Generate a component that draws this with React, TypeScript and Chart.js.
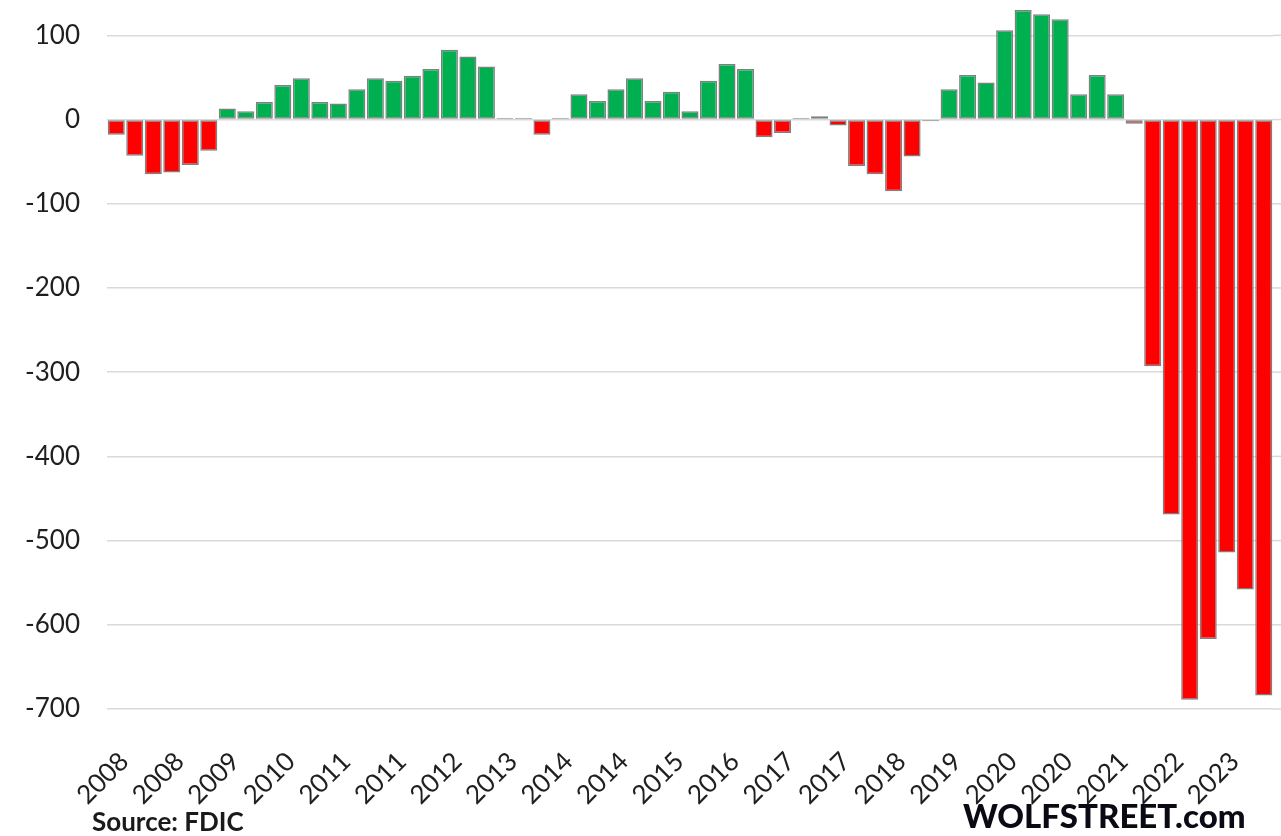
import React, { useEffect, useRef } from "react";
import { Chart, registerables } from "chart.js";

Chart.register(...registerables);

// Quarterly categories, 2008 Q1 – 2023 Q3
const quarters: string[] = [
  "2008 Q1", "2008 Q2", "2008 Q3", "2008 Q4",
  "2009 Q1", "2009 Q2", "2009 Q3", "2009 Q4",
  "2010 Q1", "2010 Q2", "2010 Q3", "2010 Q4",
  "2011 Q1", "2011 Q2", "2011 Q3", "2011 Q4",
  "2012 Q1", "2012 Q2", "2012 Q3", "2012 Q4",
  "2013 Q1", "2013 Q2", "2013 Q3", "2013 Q4",
  "2014 Q1", "2014 Q2", "2014 Q3", "2014 Q4",
  "2015 Q1", "2015 Q2", "2015 Q3", "2015 Q4",
  "2016 Q1", "2016 Q2", "2016 Q3", "2016 Q4",
  "2017 Q1", "2017 Q2", "2017 Q3", "2017 Q4",
  "2018 Q1", "2018 Q2", "2018 Q3", "2018 Q4",
  "2019 Q1", "2019 Q2", "2019 Q3", "2019 Q4",
  "2020 Q1", "2020 Q2", "2020 Q3", "2020 Q4",
  "2021 Q1", "2021 Q2", "2021 Q3", "2021 Q4",
  "2022 Q1", "2022 Q2", "2022 Q3", "2022 Q4",
  "2023 Q1", "2023 Q2", "2023 Q3",
];

// Values
const values: number[] = [
  -18, -43, -65, -63, -54, -37,
  13, 10, 21, 41, 49, 21, 19, 36, 49, 46, 52, 60, 83, 75, 63,
  2, 2, -18, 2,
  30, 22, 36, 49, 22, 33, 10, 46, 66, 60,
  -21, -16, 2, 4, -7, -55, -65, -85, -44, -2,
  36, 53, 44, 106, 130, 125, 119, 30, 53, 30,
  -5, -293, -469, -689, -617, -514, -558, -684,
];

// Shown x tick labels (one every third quarter)
const tickLabels: string[] = [
  "2008", "2008", "2009", "2010", "2011", "2011", "2012", "2013", "2014", "2014",
  "2015", "2016", "2017", "2017", "2018", "2019", "2020", "2020", "2021", "2022", "2023",
];

const yTicks: number[] = [100, 0, -100, -200, -300, -400, -500, -600, -700];

const sourceText = "Source: FDIC";
const brandText = "WOLFSTREET.com";

const gridColor = "#D9D9D9";

// extends horizontal gridlines to the right edge of the canvas, as in the reference
const gridExtend = {
  id: "gridExtend",
  beforeDatasetsDraw(chart: any) {
    const { ctx, chartArea, scales } = chart;
    const y = scales.y;
    ctx.save();
    ctx.strokeStyle = gridColor;
    ctx.lineWidth = 1.5;
    y.ticks.forEach((t: any) => {
      const py = y.getPixelForValue(t.value);
      ctx.beginPath();
      ctx.moveTo(chartArea.right, py);
      ctx.lineTo(chart.width, py);
      ctx.stroke();
    });
    ctx.restore();
  },
};

export default function App() {
  const canvasRef = useRef<HTMLCanvasElement | null>(null);

  useEffect(() => {
    const canvas = canvasRef.current;
    if (!canvas) return;
    const chart = new Chart(canvas, {
      type: "bar",
      data: {
        labels: quarters,
        datasets: [
          {
            data: values,
            backgroundColor: values.map((v) => (v < 0 ? "#FF0000" : "#00B050")),
            borderColor: "#7F7F7F",
            borderWidth: 1.5,
            borderSkipped: false,
            barPercentage: 0.92,
            categoryPercentage: 1.0,
          },
        ],
      },
      options: {
        responsive: false,
        animation: false,
        layout: { padding: { top: 0, right: 8, bottom: 0, left: 0 } },
        plugins: {
          legend: { display: false },
          tooltip: { enabled: false },
          title: { display: false },
        },
        scales: {
          x: {
            grid: { display: false, drawTicks: false },
            border: { display: false },
            ticks: {
              autoSkip: false,
              maxRotation: 45,
              minRotation: 45,
              padding: 37,
              labelOffset: 8,
              color: "#1F1F1F",
              font: { family: "Lato", size: 26 },
              callback: (_v: any, index: number) =>
                index % 3 === 0 ? tickLabels[index / 3] ?? "" : "",
            },
            afterFit: (scale: any) => {
              scale.height = 127;
              scale.paddingLeft = 0;
              scale.paddingRight = 0;
            },
          },
          y: {
            min: -700,
            max: 142,
            grid: { color: gridColor, lineWidth: 1.5, drawTicks: false },
            border: { display: false },
            ticks: {
              padding: 27,
              color: "#1F1F1F",
              font: { family: "Lato", size: 26 },
            },
            afterBuildTicks: (scale: any) => {
              scale.ticks = yTicks.map((v) => ({ value: v }));
            },
            afterFit: (scale: any) => {
              scale.width = 107;
              scale.paddingTop = 0;
              scale.paddingBottom = 0;
            },
          },
        },
      },
      plugins: [gridExtend],
    });
    return () => chart.destroy();
  }, []);

  return (
    <div
      style={{
        position: "absolute",
        left: 0,
        top: 0,
        width: 1281,
        height: 836,
        background: "#FFFFFF",
        overflow: "hidden",
      }}
    >
      <canvas ref={canvasRef} width={1281} height={836} style={{ display: "block" }} />
      <div
        style={{
          position: "absolute",
          left: 92,
          top: 806,
          fontFamily: "Lato",
          fontWeight: 700,
          fontSize: 26,
          lineHeight: "30px",
          color: "#1A1A1A",
          whiteSpace: "nowrap",
        }}
      >
        {sourceText}
      </div>
      <div
        style={{
          position: "absolute",
          left: 963,
          top: 797,
          fontFamily: "Lato",
          fontWeight: 900,
          fontSize: 33,
          lineHeight: "36px",
          color: "#0A0A14",
          whiteSpace: "nowrap",
        }}
      >
        {brandText}
      </div>
    </div>
  );
}
